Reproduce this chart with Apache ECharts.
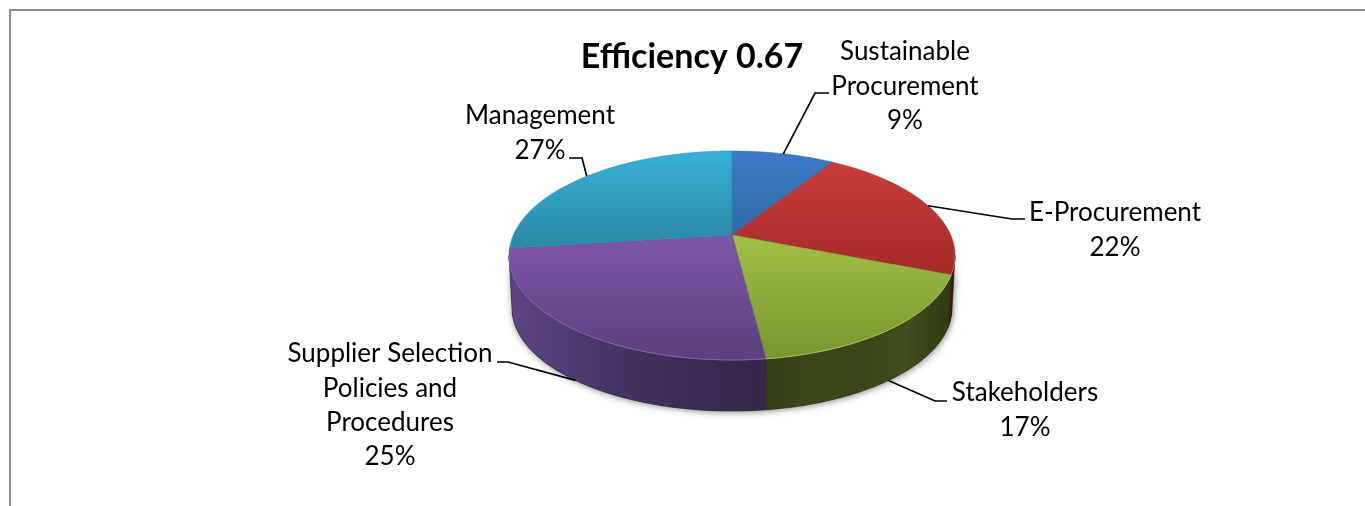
<!DOCTYPE html>
<html>
<head>
<meta charset="utf-8">
<style>html,body{margin:0;padding:0;background:#fff}#c{width:1365px;height:506px}</style>
<script src="https://cdn.jsdelivr.net/npm/echarts@6/dist/echarts.min.js"></script>
</head>
<body>
<div id="c"></div>
<script>
// ---- data ----
const titleText = 'Efficiency 0.67';
const categories = ['Sustainable\nProcurement', 'E-Procurement', 'Stakeholders', 'Supplier Selection\nPolicies and\nProcedures', 'Management'];
const values = [9, 22, 17, 25, 27];

// ---- styles ----
const topColors = [['#3d7cc6', '#2f6aa6'], ['#c83c38', '#a32b29'], ['#a0c046', '#76962f'], ['#7d57a8', '#5d3f80'], ['#37b0d6', '#2a8aa6']];
const rimColors = ['#5a94d8', '#d86a66', '#b6d26a', '#8e72b6', '#5cc4e2'];
const sideColors = [
  ['#2a4f80', '#1f3d63'],
  ['#4f1c16', '#3c1510'],
  ['#333f16', '#3a4818', '#394617', '#3f4e1c', '#2f3a13'],
  ['#5f4785', '#4e3a70', '#41305f', '#3b2a52', '#372749'],
  ['#20708c', '#1b5e75']
];
// ---- layout of the pie (ellipses of the top and bottom faces and perspective shift) ----
const pie = { cx: 732, topCy: 255.5, rx: 223, ry: 104.5, botCy: 308, botRx: 220, botRy: 103, shift: 0.196 };
// label block centre, first-line centre y, and the leader's elbow/end
const labelLayout = [
  { x: 905, y: 52, elbow: [815, 93], end: [829, 93], onBottom: false },
  { x: 1115, y: 213, elbow: [1012, 219], end: [1025, 219], onBottom: false },
  { x: 1025, y: 393, elbow: [935, 401], end: [947, 401], onBottom: true },
  { x: 390, y: 354, elbow: [508, 362], end: [497, 362], onBottom: true },
  { x: 540, y: 116, elbow: [582, 158], end: [569, 158], onBottom: false }
];
const lineHeight = 34.3;
const fontFamily = 'Lato, "Open Sans", sans-serif';

const total = values.reduce((a, b) => a + b, 0);
// fraction of the full circle (clockwise from the top) -> angle on the projected ellipse
function projAngle(frac) {
  const t = frac * 2 * Math.PI, u = Math.sin(t), v = Math.cos(t), d = pie.shift;
  const den = 1 + d * v;
  let a = Math.atan2(u * Math.sqrt(1 - d * d) / den, (v + d) / den);
  if (a < 0) a += 2 * Math.PI;
  if (frac >= 1) a = 2 * Math.PI;
  return a;
}
const topPt = a => [pie.cx + pie.rx * Math.sin(a), pie.topCy - pie.ry * Math.cos(a)];
const botPt = a => [pie.cx + pie.botRx * Math.sin(a), pie.botCy - pie.botRy * Math.cos(a)];
function arc(fn, a0, a1) {
  const n = Math.max(2, Math.ceil(Math.abs(a1 - a0) / 0.02)), out = [];
  for (let i = 0; i <= n; i++) out.push(fn(a0 + (a1 - a0) * i / n));
  return out;
}
function stops(list) {
  return list.map((color, i) => ({ offset: i / (list.length - 1), color }));
}
const apex = () => [pie.cx, pie.topCy - pie.ry * pie.shift];

function renderItem(params, api) {
  const i = params.dataIndex;
  let before = 0;
  for (let k = 0; k < i; k++) before += values[k];
  const val = api.value(0);
  const a0 = projAngle(before / total), a1 = projAngle((before + val) / total);
  const mid = projAngle((before + val / 2) / total);
  const children = [];

  if (i === 0) {
    const outline = arc(topPt, Math.PI / 2, Math.PI * 1.5).concat([]);
    const base = arc(botPt, Math.PI * 1.5, Math.PI / 2);
    children.push({
      type: 'polygon', z2: 1,
      shape: { points: outline.concat(base) },
      style: { fill: '#3a3a30', shadowBlur: 7, shadowColor: 'rgba(0,0,0,0.5)', shadowOffsetX: 1, shadowOffsetY: 1 }
    });
  }
  // visible side wall (lower half of the ellipse)
  const s0 = Math.max(a0, Math.PI / 2), s1 = Math.min(a1, Math.PI * 1.5);
  if (s1 > s0) {
    children.push({
      type: 'polygon', z2: 2 + i,
      shape: { points: arc(topPt, s0, s1).concat(arc(botPt, s1, s0)) },
      style: {
        fill: new echarts.graphic.LinearGradient(0, 0, 1, 0, stops(sideColors[i])),
        stroke: sideColors[i][sideColors[i].length - 1], lineWidth: 0.4
      }
    });
  }
  // top face
  children.push({
    type: 'polygon', z2: 20 + i,
    shape: { points: [apex()].concat(arc(topPt, a0, a1)) },
    style: {
      fill: new echarts.graphic.LinearGradient(0, 0, 0, 1, stops(topColors[i])),
      stroke: topColors[i][1], lineWidth: 0.3
    }
  });
  // thin bright rim on the near edge
  if (s1 > s0) {
    children.push({
      type: 'polyline', z2: 30,
      shape: { points: arc(topPt, s0, s1) },
      style: { fill: null, stroke: rimColors[i], lineWidth: 1, opacity: 0.85 }
    });
  }
  // leader line, from the middle of the slice's edge
  const lay = labelLayout[i];
  children.push({
    type: 'polyline', z2: 40,
    shape: { points: [(lay.onBottom ? botPt : topPt)(mid), lay.elbow, lay.end] },
    style: { fill: null, stroke: '#000', lineWidth: 1.7 }
  });
  // label: category + percentage
  const lines = categories[i].split('\n').concat(Math.round(val / total * 100) + '%');
  lines.forEach((text, k) => {
    children.push({
      type: 'text', z2: 50,
      style: {
        x: lay.x, y: lay.y + k * lineHeight, text,
        align: 'center', verticalAlign: 'middle',
        fontFamily, fontSize: 26, fill: '#000'
      }
    });
  });
  return { type: 'group', children };
}

const chart = echarts.init(document.getElementById('c'), null, { renderer: 'canvas', width: 1365, height: 506 });
chart.setOption({
  animation: false,
  backgroundColor: '#fff',
  title: {
    text: titleText, left: 692, top: 35, textAlign: 'center',
    textStyle: { fontFamily, fontSize: 34, fontWeight: 'bold', color: '#000' }
  },
  graphic: [
    { type: 'line', shape: { x1: 10, y1: 10, x2: 1365, y2: 10 }, style: { stroke: '#8c8c8c', lineWidth: 2 } },
    { type: 'line', shape: { x1: 10, y1: 9, x2: 10, y2: 506 }, style: { stroke: '#8c8c8c', lineWidth: 2 } }
  ],
  series: [{
    type: 'custom', coordinateSystem: 'none', silent: true, clip: false,
    renderItem, data: values.map(v => [v])
  }]
});
chart.setOption({ title: { left: 687 } });
</script>
</body>
</html>
